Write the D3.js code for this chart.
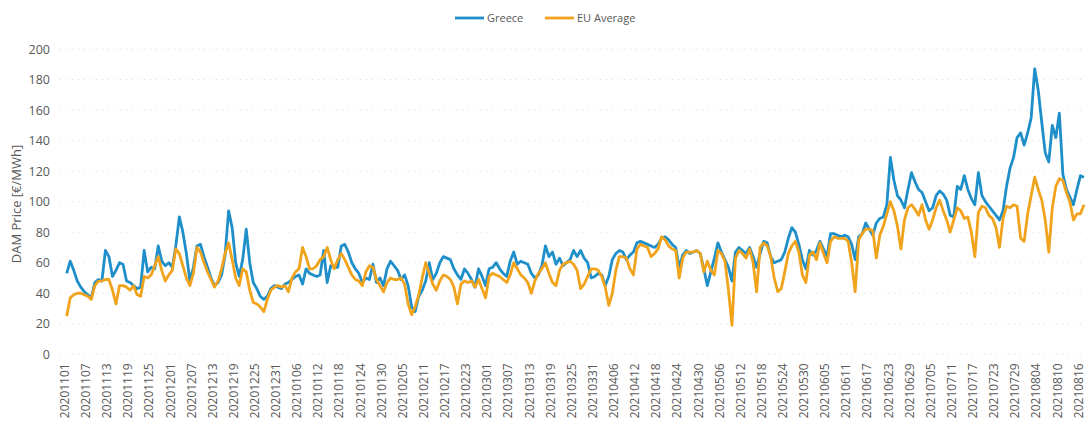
<!DOCTYPE html>
<html>
<head>
<meta charset="utf-8">
<script src="https://cdn.jsdelivr.net/npm/d3@7"></script>
<style>
    body { margin: 0; background: #fff; }
    text { font-family: 'Open Sans', 'Liberation Sans', sans-serif; fill: #595959; }
</style>
</head>
<body>
<svg width="1086" height="426"></svg>
<script>
var firstDay = '20201101';
var tickStep = 6;
var yTicks = [0, 20, 40, 60, 80, 100, 120, 140, 160, 180, 200];
var seriesNames = ['Greece', 'EU Average'];
var seriesColors = ['#1e8fc9', '#f1a31c'];

// daily DAM price, EUR/MWh, starting 20201101
var greece = [
    53, 61, 55, 48, 44, 41, 39, 37, 47, 49, 48, 68, 64, 51, 55, 60, 59, 48, 47, 45,
    43, 44, 68, 54, 57, 56, 71, 61, 58, 60, 57, 71, 90, 80, 66, 48, 57, 71, 72, 64,
    57, 50, 45, 47, 52, 65, 94, 83, 60, 51, 62, 82, 60, 47, 43, 38, 36, 38, 43, 45,
    44, 43, 46, 47, 49, 51, 52, 46, 56, 53, 52, 51, 52, 68, 47, 58, 57, 57, 71, 72,
    67, 60, 56, 53, 47, 50, 49, 59, 47, 50, 45, 56, 61, 58, 55, 49, 52, 45, 31, 28,
    38, 42, 48, 60, 49, 53, 60, 64, 63, 62, 56, 52, 49, 56, 53, 49, 44, 56, 51, 45,
    56, 57, 60, 56, 53, 51, 61, 67, 59, 61, 60, 59, 53, 50, 52, 58, 71, 64, 67, 59,
    63, 58, 60, 62, 68, 64, 68, 63, 60, 50, 51, 53, 52, 45, 51, 62, 66, 68, 67, 62,
    65, 67, 73, 74, 73, 72, 71, 70, 72, 76, 77, 75, 72, 70, 57, 65, 68, 66, 67, 68,
    66, 56, 45, 54, 63, 73, 67, 62, 57, 48, 67, 70, 68, 66, 70, 64, 57, 66, 74, 73,
    64, 60, 61, 62, 67, 76, 83, 80, 72, 62, 56, 68, 65, 68, 74, 69, 64, 79, 79, 78,
    77, 78, 77, 72, 62, 77, 79, 86, 82, 78, 86, 89, 90, 98, 129, 114, 104, 101, 96, 108,
    119, 113, 108, 106, 100, 94, 96, 104, 107, 105, 101, 91, 90, 110, 108, 117, 108, 102, 98, 119,
    104, 100, 97, 94, 91, 88, 94, 110, 122, 129, 142, 145, 137, 145, 155, 187, 173, 152, 132, 126,
    150, 142, 158, 118, 108, 103, 98, 108, 117, 116
];
var euAverage = [
    25, 37, 39, 40, 40, 39, 38, 36, 45, 48, 48, 49, 49, 42, 33, 45, 45, 44, 42, 45,
    39, 38, 51, 50, 52, 58, 64, 55, 48, 52, 55, 69, 66, 58, 50, 45, 53, 70, 67, 60,
    54, 49, 44, 48, 56, 66, 73, 62, 50, 45, 56, 54, 42, 34, 33, 31, 28, 36, 42, 44,
    45, 44, 45, 41, 50, 54, 56, 70, 64, 56, 56, 58, 62, 64, 70, 62, 56, 62, 66, 62,
    57, 52, 49, 48, 45, 54, 58, 57, 49, 45, 41, 47, 50, 49, 49, 50, 46, 33, 26, 31,
    39, 50, 60, 53, 46, 42, 48, 52, 51, 49, 44, 33, 46, 48, 47, 48, 44, 49, 43, 37,
    51, 53, 52, 51, 49, 47, 52, 60, 56, 52, 50, 47, 40, 48, 53, 56, 60, 53, 47, 45,
    55, 59, 60, 61, 59, 55, 43, 46, 51, 56, 56, 55, 51, 44, 32, 40, 55, 64, 64, 63,
    56, 52, 69, 72, 71, 70, 64, 66, 69, 77, 75, 71, 69, 68, 50, 63, 67, 67, 67, 68,
    66, 54, 61, 55, 52, 68, 66, 61, 42, 19, 63, 68, 66, 63, 69, 60, 41, 70, 73, 71,
    64, 50, 41, 43, 54, 66, 71, 74, 67, 52, 47, 65, 67, 62, 73, 66, 60, 74, 77, 76,
    76, 76, 74, 60, 41, 75, 79, 82, 82, 81, 63, 78, 84, 92, 100, 94, 84, 69, 88, 96,
    98, 95, 91, 98, 88, 82, 88, 96, 101, 94, 88, 80, 88, 96, 94, 89, 90, 80, 64, 93,
    97, 96, 91, 89, 83, 70, 89, 97, 96, 98, 97, 76, 74, 92, 104, 116, 108, 101, 88, 67,
    96, 110, 115, 114, 106, 100, 88, 92, 92, 98
];

var svg = d3.select('svg');
var parseDay = d3.timeParse('%Y%m%d');
var formatDay = d3.timeFormat('%Y%m%d');
var start = parseDay(firstDay);
var days = greece.map(function(v, i) {
    return formatDay(d3.timeDay.offset(start, i));
});

var x = d3.scalePoint()
    .domain(days)
    .range([66.7, 66.7 + 3.52 * (days.length - 1)]);
var y = d3.scaleLinear().domain([0, 200]).range([354.3, 49]);

// faint grid
svg.append('g')
    .selectAll('line')
    .data(yTicks)
    .enter()
    .append('line')
    .attr('x1', 60)
    .attr('x2', 1086)
    .attr('y1', function(d) { return y(d); })
    .attr('y2', function(d) { return y(d); })
    .attr('stroke', '#dcdcdc')
    .attr('stroke-width', 1)
    .attr('stroke-dasharray', '1 5');

var yAxis = svg.append('g')
    .attr('transform', 'translate(56,0)')
    .call(d3.axisLeft(y).tickValues(yTicks).tickSize(0).tickPadding(6));
yAxis.select('.domain').remove();
yAxis.selectAll('text')
    .style('font-size', '12.5px')
    .attr('fill', '#595959');

var xAxis = svg.append('g')
    .attr('transform', 'translate(0,354.3)')
    .call(d3.axisBottom(x)
        .tickValues(days.filter(function(d, i) { return i % tickStep == 0; }))
        .tickSize(0));
xAxis.select('.domain').remove();
xAxis.selectAll('text')
    .style('font-size', '12px')
    .attr('fill', '#595959')
    .attr('text-anchor', 'end')
    .attr('transform', 'rotate(-90)')
    .attr('x', -9)
    .attr('y', -2.5)
    .attr('dy', '0.35em');

svg.append('text')
    .attr('transform', 'translate(21,204) rotate(-90)')
    .attr('text-anchor', 'middle')
    .style('font-size', '13px')
    .text('DAM Price [€/MWh]');

var line = d3.line()
    .x(function(d, i) { return x(days[i]); })
    .y(function(d) { return y(d); });

[greece, euAverage].forEach(function(values, k) {
    svg.append('path')
        .datum(values)
        .attr('d', line)
        .attr('fill', 'none')
        .attr('stroke', seriesColors[k])
        .attr('stroke-width', 2.8)
        .attr('stroke-linejoin', 'round');
});

// legend
var legendX = [455, 545];
var legend = svg.append('g');
seriesNames.forEach(function(name, k) {
    legend.append('line')
        .attr('x1', legendX[k])
        .attr('x2', legendX[k] + 29)
        .attr('y1', 18)
        .attr('y2', 18)
        .attr('stroke', seriesColors[k])
        .attr('stroke-width', 2.8);
    legend.append('text')
        .attr('x', legendX[k] + 32)
        .attr('y', 18)
        .attr('dy', '0.35em')
        .style('font-size', '11px')
        .text(name);
});
</script>
</body>
</html>
